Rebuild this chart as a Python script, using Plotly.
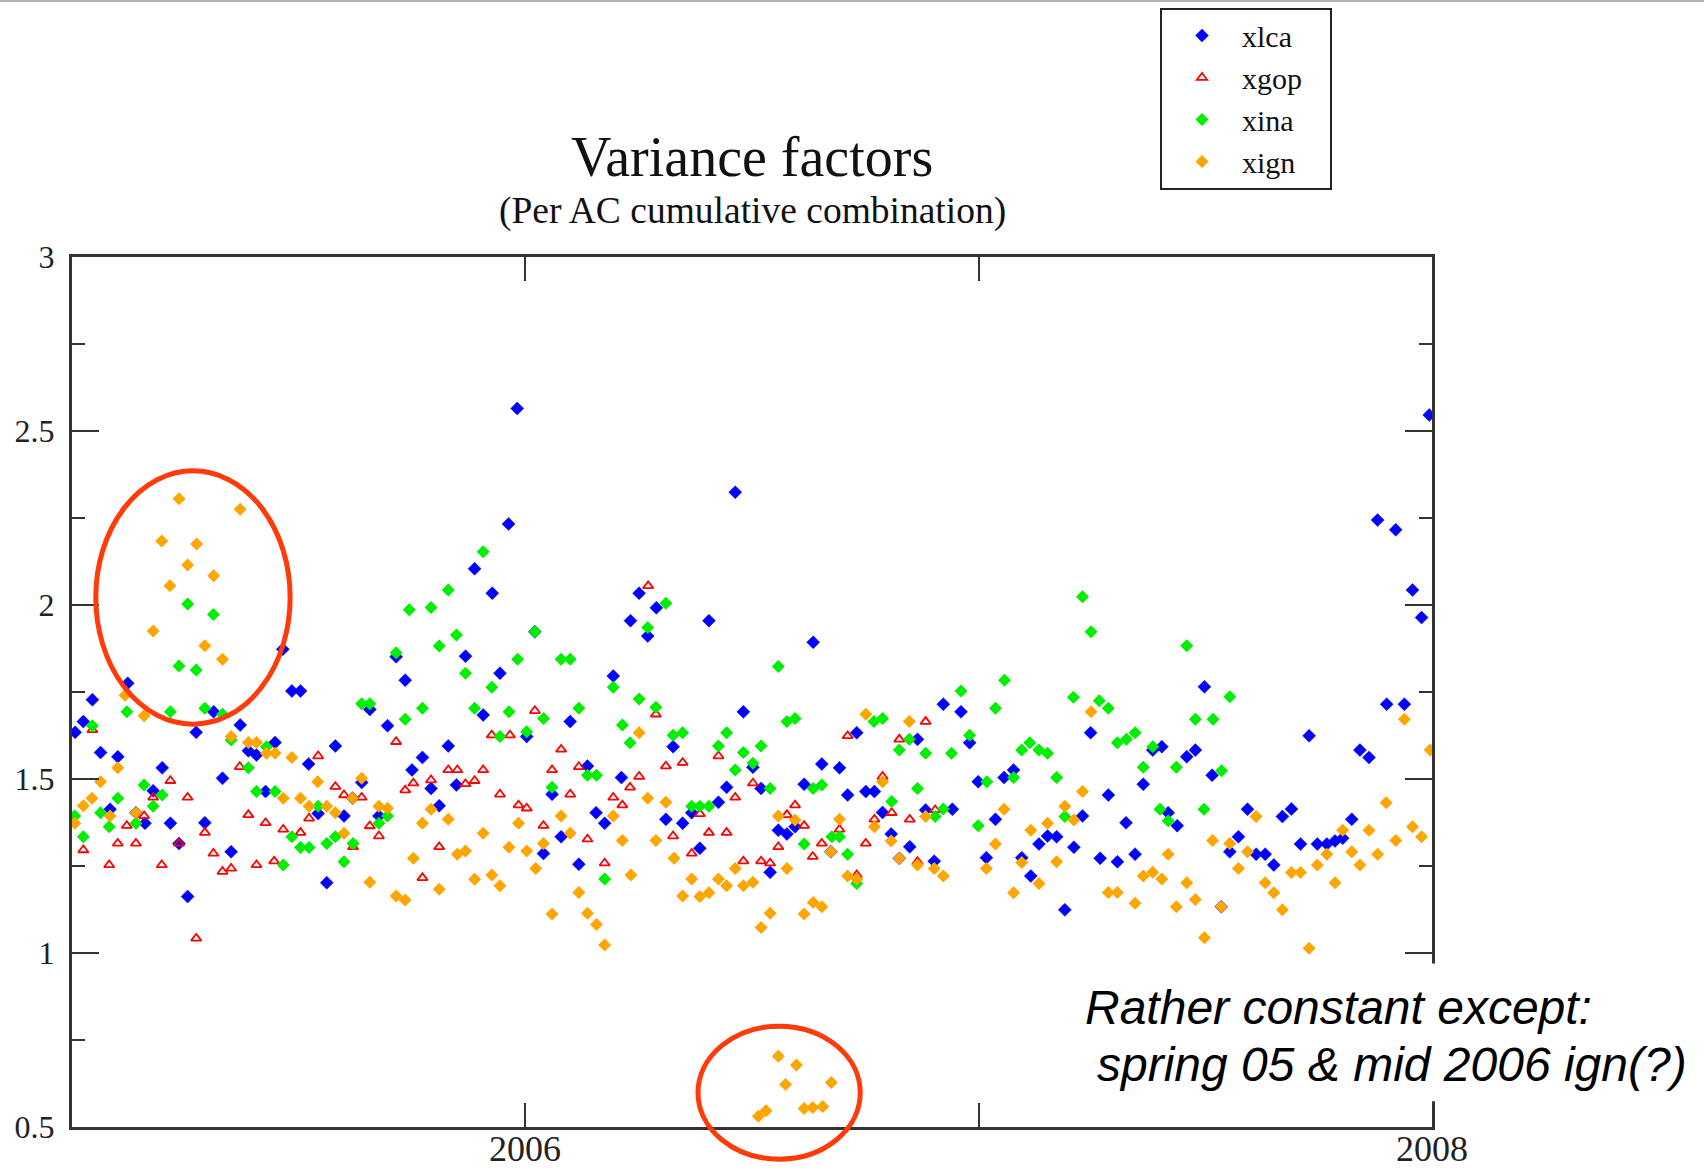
import plotly.graph_objects as go

# ---- weekly variance factors per analysis centre (decimal year, factor) ----
xlca_t = [2005.007, 2005.025, 2005.045, 2005.063, 2005.084, 2005.101, 2005.123, 2005.141, 2005.161, 2005.179,
          2005.199, 2005.217, 2005.236, 2005.255, 2005.274, 2005.293, 2005.3125, 2005.332, 2005.351, 2005.371,
          2005.389, 2005.407, 2005.427, 2005.448, 2005.465, 2005.485, 2005.504, 2005.522, 2005.543, 2005.562,
          2005.581, 2005.600, 2005.619, 2005.639, 2005.657, 2005.677, 2005.696, 2005.715, 2005.735, 2005.750,
          2005.773, 2005.792, 2005.810, 2005.830, 2005.848, 2005.868, 2005.888, 2005.907, 2005.927, 2005.944,
          2005.963, 2005.982, 2006.003, 2006.021, 2006.040, 2006.059, 2006.079, 2006.099, 2006.118, 2006.137,
          2006.156, 2006.175, 2006.194, 2006.212, 2006.232, 2006.251, 2006.270, 2006.289, 2006.310, 2006.326,
          2006.347, 2006.367, 2006.385, 2006.405, 2006.426, 2006.444, 2006.463, 2006.481, 2006.502, 2006.520,
          2006.540, 2006.558, 2006.577, 2006.595, 2006.615, 2006.635, 2006.654, 2006.674, 2006.693, 2006.711,
          2006.731, 2006.751, 2006.770, 2006.788, 2006.807, 2006.825, 2006.848, 2006.865, 2006.883, 2006.902,
          2006.922, 2006.942, 2006.961, 2006.980, 2006.999, 2007.017, 2007.037, 2007.056, 2007.077, 2007.095,
          2007.115, 2007.133, 2007.152, 2007.172, 2007.190, 2007.210, 2007.229, 2007.247, 2007.268, 2007.286,
          2007.306, 2007.325, 2007.345, 2007.363, 2007.384, 2007.404, 2007.418, 2007.438, 2007.459, 2007.478,
          2007.498, 2007.515, 2007.535, 2007.554, 2007.573, 2007.593, 2007.612, 2007.632, 2007.651, 2007.670,
          2007.690, 2007.710, 2007.729, 2007.747, 2007.768, 2007.786, 2007.803, 2007.823, 2007.841, 2007.861,
          2007.880, 2007.900, 2007.920, 2007.939, 2007.957, 2007.977, 2007.994]
xlca_v = [1.634, 1.665, 1.728, 1.576, 1.413, 1.564, 1.775, 1.403, 1.373, 1.466,
          1.532, 1.373, 1.315, 1.162, 1.634, 1.374, 1.693, 1.502, 1.291, 1.655,
          1.581, 1.569, 1.464, 1.605, 1.873, 1.753, 1.753, 1.543, 1.401, 1.202,
          1.595, 1.394, 1.445, 1.490, 1.700, 1.394, 1.653, 1.851, 1.784, 1.526,
          1.562, 1.473, 1.423, 1.595, 1.483, 1.853, 2.104, 1.684, 2.034, 1.804,
          2.233, 2.565, 1.622, 1.923, 1.286, 1.456, 1.334, 1.665, 1.255, 1.537,
          1.403, 1.373, 1.796, 1.504, 1.955, 2.034, 1.911, 1.992, 1.384, 1.593,
          1.373, 1.403, 1.301, 1.955, 1.433, 1.476, 2.324, 1.693, 1.534, 1.473,
          1.232, 1.353, 1.342, 1.363, 1.485, 1.893, 1.543, 1.291, 1.532, 1.454,
          1.633, 1.464, 1.464, 1.404, 1.342, 1.272, 1.305, 1.614, 1.411, 1.264,
          1.715, 1.413, 1.693, 1.604, 1.492, 1.274, 1.384, 1.504, 1.526, 1.274,
          1.221, 1.313, 1.336, 1.334, 1.124, 1.304, 1.394, 1.633, 1.272, 1.454,
          1.262, 1.374, 1.284, 1.485, 1.583, 1.593, 1.403, 1.366, 1.564, 1.583,
          1.765, 1.511, 1.133, 1.291, 1.334, 1.413, 1.284, 1.284, 1.253, 1.392,
          1.414, 1.313, 1.624, 1.313, 1.313, 1.322, 1.330, 1.384, 1.583, 1.562,
          2.244, 1.715, 2.216, 1.715, 2.043, 1.964, 2.546]

xgop_t = [2005.025, 2005.045, 2005.082, 2005.101, 2005.121, 2005.141, 2005.159, 2005.179, 2005.198, 2005.217,
          2005.236, 2005.255, 2005.274, 2005.293, 2005.312, 2005.332, 2005.351, 2005.370, 2005.389, 2005.407,
          2005.427, 2005.446, 2005.466, 2005.504, 2005.523, 2005.543, 2005.581, 2005.600, 2005.620, 2005.639,
          2005.657, 2005.677, 2005.715, 2005.735, 2005.753, 2005.773, 2005.792, 2005.810, 2005.830, 2005.850,
          2005.868, 2005.888, 2005.907, 2005.926, 2005.944, 2005.966, 2005.985, 2006.003, 2006.021, 2006.040,
          2006.059, 2006.079, 2006.099, 2006.118, 2006.137, 2006.175, 2006.194, 2006.214, 2006.231, 2006.251,
          2006.271, 2006.288, 2006.310, 2006.326, 2006.347, 2006.367, 2006.385, 2006.405, 2006.426, 2006.444,
          2006.463, 2006.481, 2006.502, 2006.520, 2006.540, 2006.558, 2006.577, 2006.595, 2006.615, 2006.634,
          2006.654, 2006.693, 2006.711, 2006.731, 2006.751, 2006.770, 2006.788, 2006.808, 2006.825, 2006.848,
          2006.865, 2006.883, 2006.904]
xgop_v = [1.296, 1.641, 1.253, 1.315, 1.366, 1.315, 1.394, 1.447, 1.253, 1.495,
          1.315, 1.447, 1.042, 1.346, 1.286, 1.234, 1.243, 1.535, 1.397, 1.253,
          1.374, 1.264, 1.355, 1.346, 1.387, 1.566, 1.478, 1.454, 1.305, 1.447,
          1.365, 1.336, 1.607, 1.468, 1.488, 1.216, 1.497, 1.305, 1.526, 1.526,
          1.486, 1.495, 1.526, 1.626, 1.456, 1.626, 1.425, 1.416, 1.696, 1.366,
          1.526, 1.585, 1.456, 1.535, 1.327, 1.258, 1.447, 1.425, 1.476, 1.507,
          2.055, 1.686, 1.537, 1.336, 1.547, 1.286, 1.400, 1.346, 1.566, 1.346,
          1.447, 1.264, 1.488, 1.264, 1.258, 1.305, 1.397, 1.425, 1.366, 1.277,
          1.315, 1.355, 1.624, 1.224, 1.315, 1.384, 1.507, 1.403, 1.614, 1.384,
          1.262, 1.665, 1.411]

xina_t = [2005.006, 2005.025, 2005.045, 2005.063, 2005.082, 2005.101, 2005.121, 2005.141, 2005.159, 2005.179,
          2005.199, 2005.217, 2005.236, 2005.255, 2005.274, 2005.293, 2005.312, 2005.332, 2005.351, 2005.389,
          2005.407, 2005.429, 2005.448, 2005.466, 2005.485, 2005.504, 2005.523, 2005.543, 2005.562, 2005.581,
          2005.600, 2005.620, 2005.639, 2005.657, 2005.677, 2005.696, 2005.715, 2005.735, 2005.744, 2005.773,
          2005.792, 2005.810, 2005.830, 2005.848, 2005.868, 2005.888, 2005.907, 2005.926, 2005.944, 2005.964,
          2005.983, 2006.003, 2006.021, 2006.040, 2006.059, 2006.079, 2006.099, 2006.118, 2006.137, 2006.157,
          2006.175, 2006.194, 2006.214, 2006.231, 2006.251, 2006.270, 2006.288, 2006.310, 2006.326, 2006.347,
          2006.367, 2006.385, 2006.405, 2006.426, 2006.444, 2006.463, 2006.481, 2006.502, 2006.520, 2006.540,
          2006.558, 2006.577, 2006.595, 2006.615, 2006.635, 2006.654, 2006.676, 2006.693, 2006.711, 2006.731,
          2006.769, 2006.788, 2006.808, 2006.825, 2006.847, 2006.865, 2006.883, 2006.904, 2006.922, 2006.940,
          2006.961, 2006.980, 2006.999, 2007.018, 2007.037, 2007.057, 2007.077, 2007.095, 2007.113, 2007.133,
          2007.152, 2007.172, 2007.190, 2007.209, 2007.229, 2007.248, 2007.266, 2007.286, 2007.306, 2007.326,
          2007.345, 2007.363, 2007.384, 2007.400, 2007.418, 2007.436, 2007.459, 2007.478, 2007.497, 2007.517,
          2007.536, 2007.554]
xina_v = [1.394, 1.334, 1.653, 1.403, 1.363, 1.445, 1.693, 1.373, 1.483, 1.422,
          1.454, 1.693, 1.825, 2.003, 1.813, 1.703, 1.973, 1.686, 1.612, 1.532,
          1.464, 1.593, 1.464, 1.253, 1.334, 1.303, 1.303, 1.422, 1.315, 1.334,
          1.262, 1.315, 1.716, 1.716, 1.373, 1.394, 1.863, 1.672, 1.986, 1.703,
          1.993, 1.882, 2.043, 1.914, 1.804, 1.703, 2.153, 1.764, 1.622, 1.693,
          1.844, 1.636, 1.923, 1.674, 1.476, 1.844, 1.844, 1.703, 1.511, 1.511,
          1.213, 1.764, 1.655, 1.604, 1.730, 1.935, 1.706, 2.005, 1.626, 1.633,
          1.422, 1.422, 1.422, 1.595, 1.633, 1.526, 1.576, 1.545, 1.595, 1.473,
          1.823, 1.665, 1.674, 1.313, 1.473, 1.483, 1.334, 1.334, 1.284, 1.200,
          1.665, 1.674, 1.435, 1.583, 1.614, 1.473, 1.574, 1.392, 1.414, 1.574,
          1.753, 1.626, 1.366, 1.492, 1.703, 1.784, 1.504, 1.583, 1.604, 1.583,
          1.574, 1.504, 1.392, 1.735, 2.024, 1.923, 1.725, 1.703, 1.604, 1.614,
          1.633, 1.534, 1.593, 1.413, 1.380, 1.534, 1.883, 1.672, 1.413, 1.672,
          1.524, 1.736]

xign_t = [2005.006, 2005.025, 2005.044, 2005.063, 2005.084, 2005.101, 2005.117, 2005.141, 2005.159, 2005.179,
          2005.198, 2005.216, 2005.236, 2005.255, 2005.275, 2005.293, 2005.3125, 2005.332, 2005.351, 2005.371,
          2005.389, 2005.407, 2005.429, 2005.448, 2005.466, 2005.485, 2005.504, 2005.523, 2005.542, 2005.562,
          2005.581, 2005.600, 2005.619, 2005.639, 2005.657, 2005.677, 2005.696, 2005.715, 2005.735, 2005.753,
          2005.773, 2005.792, 2005.810, 2005.830, 2005.850, 2005.868, 2005.888, 2005.907, 2005.926, 2005.944,
          2005.964, 2005.985, 2006.003, 2006.023, 2006.040, 2006.059, 2006.079, 2006.099, 2006.118, 2006.137,
          2006.157, 2006.175, 2006.194, 2006.214, 2006.233, 2006.251, 2006.270, 2006.288, 2006.310, 2006.328,
          2006.347, 2006.367, 2006.385, 2006.405, 2006.426, 2006.444, 2006.463, 2006.481, 2006.502, 2006.520,
          2006.540, 2006.558, 2006.577, 2006.595, 2006.615, 2006.635, 2006.654, 2006.674, 2006.693, 2006.711,
          2006.731, 2006.751, 2006.770, 2006.788, 2006.807, 2006.825, 2006.847, 2006.865, 2006.883, 2006.902,
          2006.922, 2007.017, 2007.037, 2007.056, 2007.077, 2007.095, 2007.115, 2007.133, 2007.152, 2007.172,
          2007.190, 2007.210, 2007.229, 2007.248, 2007.286, 2007.306, 2007.345, 2007.363, 2007.384, 2007.404,
          2007.418, 2007.436, 2007.459, 2007.478, 2007.498, 2007.516, 2007.535, 2007.554, 2007.573, 2007.593,
          2007.612, 2007.632, 2007.651, 2007.670, 2007.690, 2007.710, 2007.729, 2007.747, 2007.768, 2007.786,
          2007.803, 2007.823, 2007.841, 2007.861, 2007.880, 2007.899, 2007.920, 2007.939, 2007.957, 2007.977,
          2007.996,
          2006.514, 2006.531, 2006.558, 2006.574, 2006.598, 2006.615, 2006.634, 2006.656, 2006.675]
xign_v = [1.373, 1.423, 1.445, 1.492, 1.394, 1.532, 1.741, 1.403, 1.682, 1.925,
          2.184, 2.055, 2.305, 2.115, 2.175, 1.883, 2.084, 1.844, 1.622, 2.275,
          1.605, 1.605, 1.574, 1.574, 1.445, 1.562, 1.445, 1.422, 1.492, 1.422,
          1.403, 1.344, 1.445, 1.502, 1.203, 1.422, 1.416, 1.164, 1.152, 1.272,
          1.373, 1.413, 1.183, 1.384, 1.284, 1.293, 1.212, 1.344, 1.224, 1.193,
          1.304, 1.373, 1.293, 1.243, 1.315, 1.112, 1.394, 1.344, 1.174, 1.114,
          1.082, 1.023, 1.394, 1.323, 1.224, 1.633, 1.445, 1.323, 1.433, 1.272,
          1.164, 1.213, 1.162, 1.173, 1.213, 1.193, 1.243, 1.193, 1.203, 1.073,
          1.114, 1.394, 1.243, 1.382, 1.112, 1.145, 1.133, 1.291, 1.384, 1.221,
          1.213, 1.686, 1.363, 1.492, 1.322, 1.272, 1.665, 1.253, 1.392, 1.243,
          1.221, 1.243, 1.313, 1.413, 1.173, 1.260, 1.353, 1.200, 1.373, 1.262,
          1.422, 1.382, 1.464, 1.693, 1.174, 1.174, 1.143, 1.221, 1.232, 1.213,
          1.284, 1.133, 1.202, 1.154, 1.044, 1.323, 1.133, 1.315, 1.243, 1.291,
          1.392, 1.202, 1.173, 1.124, 1.231, 1.231, 1.014, 1.253, 1.284, 1.202,
          1.353, 1.291, 1.253, 1.353, 1.284, 1.432, 1.323, 1.672, 1.363, 1.334,
          1.583,
          0.531, 0.547, 0.703, 0.622, 0.678, 0.553, 0.556, 0.559, 0.628]

# ---- axis ticks ----
year_ticks = [2005, 2006, 2007, 2008]
year_labels = ["", "2006", "", "2008"]

series = [
    ("xlca", xlca_t, xlca_v, dict(symbol="diamond", size=10, color="#0000ff",
                                  line=dict(color="#0000ff", width=0.5))),
    ("xgop", xgop_t, xgop_v, dict(symbol="triangle-up-open", size=9, color="#ff0000",
                                  line=dict(color="#ff0000", width=1.8))),
    ("xina", xina_t, xina_v, dict(symbol="diamond", size=10, color="#00ee00",
                                  line=dict(width=0))),
    ("xign", xign_t, xign_v, dict(symbol="diamond", size=10, color="#ffa500",
                                  line=dict(width=0))),
]

fig = go.Figure()
pad = "\u00a0\u00a0\u00a0"  # keeps the legend box as wide as the framed key
for name, t, v, marker in series:
    fig.add_trace(go.Scatter(x=t, y=v, mode="markers", name=name + pad, marker=marker))

axis_color = "#333333"
fig.update_layout(
    width=1704, height=1171,
    margin=dict(l=72, r=272, t=257, b=44, autoexpand=False),
    paper_bgcolor="white", plot_bgcolor="white",
    font=dict(family="Liberation Serif", color="black"),
    showlegend=True,
    legend=dict(x=0.8, y=1.2867, xanchor="left", yanchor="top",
                bgcolor="white", bordercolor="#222222", borderwidth=2,
                font=dict(family="Liberation Serif", size=30, color="#111111"),
                itemwidth=70, tracegroupgap=0),
    xaxis=dict(range=[2005, 2008], tickmode="array", tickvals=year_ticks,
               ticks="inside", ticklen=24, tickwidth=2, tickcolor=axis_color,
               showline=True, linewidth=3, linecolor=axis_color, mirror="ticks",
               showgrid=False, zeroline=False, automargin=False, showticklabels=False),
    yaxis=dict(range=[0.5, 3], tick0=0.5, dtick=0.5,
               ticks="inside", ticklen=27, tickwidth=2, tickcolor=axis_color,
               minor=dict(ticks="inside", ticklen=13, tickwidth=2, tickcolor=axis_color, dtick=0.25),
               showline=True, linewidth=3, linecolor=axis_color, mirror="ticks",
               showgrid=False, zeroline=False, automargin=False, ticklabelstandoff=8,
               tickfont=dict(family="Liberation Serif", size=32, color="#222222")),
)

# Year labels under the bottom axis, placed on the x scale
for yr, label in zip(year_ticks, year_labels):
    if label:
        fig.add_annotation(text=label, xref="x", yref="paper", x=yr, y=-0.0253,
                           xanchor="center", yanchor="middle", showarrow=False,
                           font=dict(family="Liberation Serif", size=36, color="#222222"))

# Titles
fig.add_annotation(text="Variance factors", xref="paper", yref="paper", x=0.5, y=1.115,
                   xanchor="center", yanchor="middle", showarrow=False,
                   font=dict(family="Liberation Serif", size=56, color="#111111"))
fig.add_annotation(text="(Per AC cumulative combination)", xref="paper", yref="paper", x=0.5, y=1.0533,
                   xanchor="center", yanchor="middle", showarrow=False,
                   font=dict(family="Liberation Serif", size=37.5, color="#111111"))

# Highlight rings and comment box
ring = dict(color="#ff3b0a", width=5)
fig.add_shape(type="circle", xref="paper", yref="paper", x0=0.0175, x1=0.1604, y0=0.463, y1=0.7543,
              line=ring, layer="above")
fig.add_shape(type="circle", xref="paper", yref="paper", x0=0.4603, x1=0.5796, y0=-0.037, y1=0.1159,
              line=ring, layer="above")
fig.add_shape(type="rect", xref="paper", yref="paper", x0=0.7265, x1=1.2, y0=0.0295, y1=0.188,
              fillcolor="white", line=dict(width=0), layer="above")
fig.add_shape(type="line", xref="paper", yref="paper", x0=-0.06, x1=1.21, y0=1.2943, y1=1.2943,
              line=dict(color="#b4b4b4", width=2), layer="above")

comment_font = dict(family="Liberation Sans", size=48, color="black")
fig.add_annotation(text="<i>Rather constant except:</i>", xref="paper", yref="paper",
                   x=0.7434, y=0.1379, xanchor="left", yanchor="middle", showarrow=False,
                   font=comment_font)
fig.add_annotation(text="<i>spring 05 &amp; mid 2006 ign(?)</i>", xref="paper", yref="paper",
                   x=0.7522, y=0.0713, xanchor="left", yanchor="middle", showarrow=False,
                   font=comment_font)

fig.write_html("out.html")
